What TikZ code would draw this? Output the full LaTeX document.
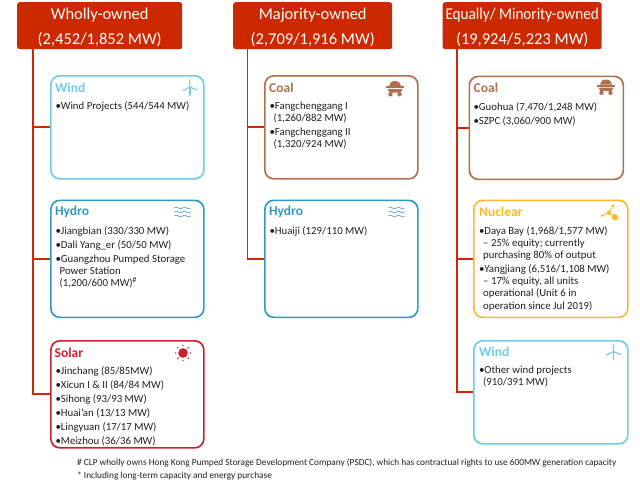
\documentclass[tikz,border=0pt]{standalone}
\usepackage{fontspec}
\setmainfont{Carlito}
\definecolor{hdr}{HTML}{CC2900}
\definecolor{windc}{HTML}{6FCDE3}
\definecolor{hydroc}{HTML}{2F9BC4}
\definecolor{solarc}{HTML}{C8232C}
\definecolor{coalc}{HTML}{B0704E}
\definecolor{nucc}{HTML}{FDB92E}
\definecolor{txt}{HTML}{1F1F1F}
\newcommand{\bul}{\makebox[5.2pt][l]{\fontsize{11}{12}\selectfont•}}
\newcommand{\cont}{\hspace*{4pt}}
\newcommand{\hstrut}{\rule{0pt}{15pt}}
\tikzset{
  x=1pt,y=-1pt,
  hdrbox/.style={fill=hdr,draw=none,rounded corners=2.5pt,text=white,font=\fontsize{16.5}{25}\selectfont,align=center,inner sep=0pt,anchor=north west},
  cat/.style={draw=#1,line width=1.7pt,rounded corners=9pt,anchor=north west,inner sep=0pt,fill=white},
  ttl/.style={text=#1,font=\fontsize{13.5}{15}\bfseries\selectfont,anchor=west,inner sep=0pt},
  lst/.style={text=txt,font=\fontsize{10.8}{12.2}\selectfont,align=left,anchor=north west,inner sep=0pt},
  conn/.style={draw=hdr,line width=1.8pt},
  foot/.style={text=txt,font=\fontsize{9.3}{11}\selectfont,anchor=west,inner sep=0pt}
}
\newcommand{\windicon}[1]{\begin{scope}[shift={(#1)},draw=windc,line width=1.1pt,line cap=round]
 \draw (0,0)--(0,8); \draw (0,0)--(-0.5,-7.5); \draw (0,0)--(-7,3.5); \draw (0,0)--(7,3);\end{scope}}
\newcommand{\coalicon}[1]{\begin{scope}[shift={(#1)},fill=coalc,draw=none]
 \fill (-6,-2) arc[start angle=180,end angle=360,x radius=6,y radius=5] -- cycle;
 \fill (-9,-1.6) rectangle (9,0);
 \fill (-7.5,1) -- (7.5,1) -- (5.5,4.5) -- (-5.5,4.5) -- cycle;
 \fill (-4.5,6.3) circle[radius=2.2]; \fill (4.5,6.3) circle[radius=2.2];\end{scope}}
\newcommand{\waveicon}[1]{\begin{scope}[shift={(#1)},draw=hydroc,line width=0.5pt]
 \foreach \yy in {-4,0,4}{\draw (-8,\yy) sin (-6,\yy-1) cos (-4,\yy) sin (-2,\yy+1) cos (0,\yy) sin (2,\yy-1) cos (4,\yy) sin (6,\yy+1) cos (8,\yy);}\end{scope}}
\begin{document}
\begin{tikzpicture}
\useasboundingbox (0,0) rectangle (640,480);
% headers
\node[hdrbox,minimum width=165pt,minimum height=47pt] (h1) at (17,2) {\hstrut Wholly-owned\\(2,452/1,852 MW)};
\node[hdrbox,minimum width=159pt,minimum height=47pt] (h2) at (233,2) {\hstrut Majority-owned\\(2,709/1,916 MW)};
\node[hdrbox,minimum width=159pt,minimum height=47pt] (h3) at (442.5,2) {\hstrut\scalebox{0.92}[1]{Equally/ Minority-owned}\\(19,924/5,223 MW)};
% trunk start points
\coordinate (t1) at (33,49);
\coordinate (t2) at (247.5,49);
\coordinate (t3) at (457,49);
% category boxes
\node[cat=windc,minimum width=153pt,minimum height=103pt] (wind1) at (50,75) {};
\node[cat=hydroc,minimum width=153pt,minimum height=117pt] (hydro1) at (50,199.5) {};
\node[cat=solarc,minimum width=153pt,minimum height=107pt] (solar1) at (50,340) {};
\node[cat=coalc,minimum width=153pt,minimum height=103pt] (coal2) at (264,75) {};
\node[cat=hydroc,minimum width=153pt,minimum height=117pt] (hydro2) at (264,199.5) {};
\node[cat=coalc,minimum width=154pt,minimum height=103pt] (coal3) at (468.5,75.5) {};
\node[cat=nucc,minimum width=154pt,minimum height=117pt] (nuc3) at (473,199.5) {};
\node[cat=windc,minimum width=154pt,minimum height=103pt] (wind3) at (473,340) {};
% connectors
\draw[conn] (t1) |- (wind1.west);
\draw[conn] (t1) |- (hydro1.west);
\draw[conn] (t1) |- (solar1.west);
\draw[conn] (t2) |- (coal2.west);
\draw[conn] (t2) |- (hydro2.west);
\draw[conn] (t3) |- (coal3.west);
\draw[conn] (t3) |- (nuc3.west);
\draw[conn] (t3) |- (wind3.west);
% titles
\node[ttl=windc] (tw1) at (55,87.5) {Wind};
\node[ttl=hydroc] (ty1) at (55,212) {Hydro};
\node[ttl=solarc] (ts1) at (54.5,352.5) {Solar};
\node[ttl=coalc] (tc2) at (269,87.5) {Coal};
\node[ttl=hydroc] (ty2) at (269,212) {Hydro};
\node[ttl=coalc] (tc3) at (473.5,88) {Coal};
\node[ttl=nucc] (tn3) at (479,212) {Nuclear};
\node[ttl=windc] (tw3) at (479,352) {Wind};
% lists
\node[lst] (l1) at (55.5,101) {\bul Wind Projects (544/544 MW)};
\node[lst] (l2) at (55.5,226) {\bul Jiangbian (330/330 MW)\\[1.8pt]\bul Dali Yang\_er (50/50 MW)\\[1.8pt]\bul Guangzhou Pumped Storage\\\cont Power Station\\\cont (1,200/600 MW)\textsuperscript{\#}};
\node[lst] (l3) at (55.5,366) {\bul Jinchang (85/85MW)\\[1.8pt]\bul Xicun I \& II (84/84 MW)\\[1.8pt]\bul Sihong (93/93 MW)\\[1.8pt]\bul Huai’an (13/13 MW)\\[1.8pt]\bul Lingyuan (17/17 MW)\\[1.8pt]\bul Meizhou (36/36 MW)};
\node[lst] (l4) at (269.5,101.5) {\bul Fangchenggang I\\\cont (1,260/882 MW)\\[1.8pt]\bul Fangchenggang II\\\cont (1,320/924 MW)};
\node[lst] (l5) at (269.5,226) {\bul Huaiji (129/110 MW)};
\node[lst] (l6) at (473.5,102) {\bul Guohua (7,470/1,248 MW)\\[1.8pt]\bul SZPC (3,060/900 MW)};
\node[lst] (l7) at (479,226) {\bul Daya Bay (1,968/1,577 MW)\\\cont – 25\% equity; currently\\\cont purchasing 80\% of output\\[1.8pt]\bul Yangjiang (6,516/1,108 MW)\\\cont – 17\% equity, all units\\\cont operational (Unit 6 in\\\cont operation since Jul 2019)};
\node[lst] (l8) at (479,366) {\bul Other wind projects\\\cont (910/391 MW)};
% footnotes
\node[foot] (f1) at (77,463) {\# CLP wholly owns Hong Kong Pumped Storage Development Company (PSDC), which has contractual rights to use 600MW generation capacity};
\node[foot] (f2) at (77,476) {* Including long-term capacity and energy purchase};
% icons
\windicon{190,87}
\windicon{613.5,351.5}
\coalicon{395,88}
\coalicon{606,86.5}
\waveicon{182.5,212}
\waveicon{396.5,212}
% solar icon
\fill[solarc] (183,353) circle[radius=4.8];
\foreach \a in {0,45,...,315}{\fill[solarc] (183,353) ++(\a:7.4) circle[radius=0.8];}
% nuclear icon
\draw[nucc,line width=0.9pt] (615,217.3)--(609,212.7)--(613,205.7);
\draw[nucc,line width=0.9pt] (609,212.7)--(602,215.7);
\fill[nucc] (615,217.3) circle[radius=3.2];
\fill[nucc] (609,212.7) circle[radius=2.3];
\fill[nucc] (613,205.7) circle[radius=1.3];
\fill[nucc] (602,215.7) circle[radius=1.3];
\end{tikzpicture}
\end{document}
